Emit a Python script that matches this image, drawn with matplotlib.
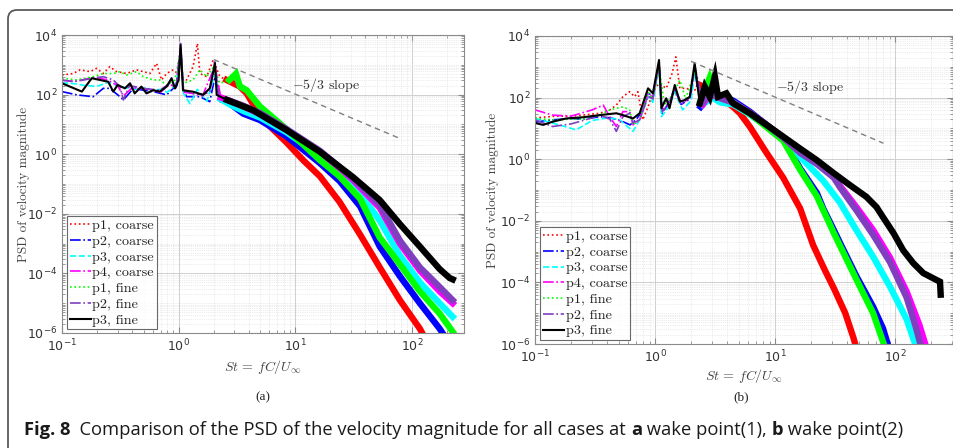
import matplotlib
matplotlib.use("Agg")
import matplotlib.pyplot as plt
import numpy as np
from matplotlib.patches import FancyBboxPatch
from matplotlib.transforms import IdentityTransform
from matplotlib.ticker import LogLocator, NullFormatter

# ---- data (St, PSD) ----
labels = ["p1, coarse", "p2, coarse", "p3, coarse", "p4, coarse",
          "p1, fine", "p2, fine", "p3, fine"]

# panel (a): wake point (1)
st_a_p1c = [0.1, 0.125, 0.143, 0.174, 0.198, 0.226, 0.257, 0.294, 0.358, 0.436, 0.498, 0.568, 0.647, 0.714,
            0.789, 0.9, 1.04, 1.17, 1.33, 1.45, 1.52, 1.74, 1.98, 2.26, 2.58, 2.94, 3.35, 3.83, 4.98, 6.0,
            8.4, 11.7, 16.3, 24, 36, 53, 79, 117, 135]
psd_a_p1c = [455, 510, 680, 590, 760, 510, 870, 590, 510, 680, 590, 510, 1120, 310,
             510, 680, 400, 310, 870, 5200, 510, 400, 1450, 400, 310, 240, 186, 110, 20, 9,
             2.5, 0.63, 0.18, 0.025, 2e-3, 1.6e-4, 1.26e-5, 1.4e-6, 5e-7]

st_a_p2c = [0.1, 0.134, 0.185, 0.226, 0.257, 0.314, 0.336, 0.41, 0.498, 0.605, 0.79, 0.9, 0.97, 1.04, 1.1,
            1.17, 1.52, 1.85, 2.05, 2.26, 2.73, 3.58, 4.98, 8.4, 16.3, 24, 36, 53, 79, 117, 173, 190]
psd_a_p2c = [126, 98, 85, 162, 162, 85, 66, 162, 140, 126, 98, 162, 200, 3000, 150,
             85, 85, 58, 400, 58, 51, 23, 14, 4, 0.5, 0.126, 0.0178, 8e-4, 8e-5, 1e-5, 1.4e-6, 8e-7]

st_a_p3c = [0.1, 0.13, 0.16, 0.2, 0.25, 0.3, 0.35, 0.42, 0.5, 0.6, 0.7, 0.8, 0.9, 0.97, 1.04, 1.1, 1.25,
            1.45, 1.75, 2.05, 2.3, 2.8, 3.6, 5.0, 8.4, 16.3, 31, 53, 79, 117, 173, 224]
psd_a_p3c = [250, 230, 200, 190, 260, 200, 170, 150, 170, 140, 150, 120, 180, 300, 3000, 110, 50,
             150, 60, 500, 70, 45, 28, 17, 5.5, 0.9, 0.11, 6e-3, 4e-4, 5e-5, 1e-5, 3.5e-6]

st_a_p4c = [0.1, 0.13, 0.17, 0.2, 0.25, 0.3, 0.336, 0.4, 0.5, 0.6, 0.7, 0.84, 0.95, 1.04, 1.1, 1.3, 1.6,
            2.05, 2.3, 2.8, 3.6, 5.0, 8.4, 16.3, 31, 53, 79, 117, 173, 224]
psd_a_p4c = [300, 280, 350, 380, 300, 200, 90, 170, 160, 140, 120, 220, 180, 3500, 120, 110, 90,
             900, 80, 60, 40, 22, 6.5, 1.2, 0.14, 0.016, 1e-3, 1.26e-4, 2.5e-5, 1e-5]

st_a_p1f = [0.1, 0.134, 0.185, 0.226, 0.275, 0.314, 0.358, 0.436, 0.498, 0.605, 0.69, 0.79, 0.93, 1.04,
            1.1, 1.33, 1.52, 1.74, 2.0, 2.26, 2.73, 3.1, 3.35, 3.83, 4.98, 8.4, 16.3, 24, 36, 53, 79,
            117, 173, 224]
psd_a_p1f = [355, 310, 400, 510, 510, 590, 455, 590, 400, 310, 310, 210, 310, 3000,
             240, 310, 680, 400, 870, 240, 310, 500, 190, 140, 40, 7, 0.63, 0.18, 0.032, 1.6e-3, 2e-4,
             2.5e-5, 4.5e-6, 1.1e-6]

st_a_p2f = [0.1, 0.125, 0.185, 0.226, 0.275, 0.314, 0.336, 0.38, 0.5, 0.69, 0.84, 0.95, 1.04, 1.1, 1.3,
            1.6, 1.85, 2.05, 2.2, 2.8, 3.6, 5.0, 8.4, 16.3, 31, 53, 79, 117, 173, 224]
psd_a_p2f = [310, 270, 355, 400, 310, 186, 66, 200, 162, 140, 240, 170, 5200, 140, 110,
             100, 120, 1260, 90, 60, 42, 24, 7, 1.3, 0.16, 0.02, 1.26e-3, 1.6e-4, 3.5e-5, 1.26e-5]

st_a_p3f = [0.1, 0.148, 0.18, 0.249, 0.275, 0.30, 0.347, 0.383, 0.42, 0.48, 0.53, 0.605, 0.69, 0.79,
            0.87, 0.93, 1.0, 1.04, 1.09, 1.33, 1.62, 1.85, 2.05, 2.12, 2.6, 3.6, 4.35, 8.4, 16.3, 31.3,
            53, 79, 117, 173, 211, 224]
psd_a_p3f = [240, 126, 355, 270, 126, 210, 162, 240, 110, 186, 110, 140, 126, 186,
             355, 160, 310, 4600, 140, 125, 98, 162, 1120, 98, 66, 40, 30, 6.5, 1.2, 0.17,
             0.029, 4.5e-3, 8e-4, 1.4e-4, 7e-5, 6.3e-5]

# panel (b): wake point (2)
st_b_p1c = [0.1, 0.15, 0.2, 0.25, 0.346, 0.42, 0.476, 0.54, 0.615, 0.676, 0.72, 0.79, 0.875, 0.96, 1.08,
            1.24, 1.39, 1.49, 1.61, 1.84, 2.08, 2.36, 2.7, 3.06, 3.46, 4.47, 5.1, 6.2, 8.5, 11.7, 16.2,
            20.8, 26, 31, 38.5, 45, 49]
psd_b_p1c = [22, 25, 25, 27, 31, 40, 57, 107, 155, 107, 155, 19, 50, 155, 290,
             200, 620, 2100, 200, 200, 155, 257, 200, 138, 107, 50, 31, 11, 1.6, 0.25, 0.025,
             1.6e-3, 2.5e-4, 6.3e-5, 1e-5, 1.6e-6, 5e-7]

st_b_p2c = [0.1, 0.14, 0.2, 0.25, 0.35, 0.42, 0.5, 0.62, 0.7, 0.8, 0.875, 0.96, 1.08, 1.15, 1.3, 1.46,
            1.65, 1.95, 2.14, 2.4, 2.86, 3.3, 4.47, 6.17, 8.5, 11.7, 16.2, 18.3, 22.3, 25.2, 30.9, 34.6,
            47.6, 65.7, 79.4, 90]
psd_b_p2c = [16, 19, 21, 20, 24, 22, 19, 13, 20, 40, 150, 100, 1200, 30, 70, 200,
             60, 90, 800, 50, 120, 90, 80, 35, 13, 4.5, 0.5, 0.25, 0.08, 0.025, 5e-3, 2e-3,
             1.6e-4, 1.6e-5, 3.2e-6, 6.3e-7]

st_b_p3c = [0.1, 0.14, 0.22, 0.3, 0.4, 0.5, 0.656, 0.75, 0.875, 0.96, 1.08, 1.13, 1.3, 1.46, 1.7, 2.0,
            2.14, 2.5, 3.0, 3.5, 4.47, 6.17, 8.5, 11.7, 16.2, 25.2, 34.6, 47.6, 65.7, 90.9, 125, 150]
psd_b_p3c = [21, 15, 9, 18, 22, 20, 8, 20, 110, 70, 1000, 24, 50, 150, 40, 80,
             700, 60, 100, 70, 60, 28, 12, 4.5, 1.2, 0.2, 0.04, 5e-3, 6.8e-4, 7.2e-5, 6.3e-6, 8e-7]

st_b_p4c = [0.1, 0.14, 0.2, 0.3, 0.37, 0.42, 0.476, 0.54, 0.615, 0.656, 0.745, 0.875, 0.96, 1.08, 1.15,
            1.3, 1.46, 1.65, 1.95, 2.14, 2.5, 2.86, 3.4, 4.47, 6.17, 8.5, 11.7, 16.2, 22.3, 30.9, 34.6,
            47.6, 65.7, 90.9, 125, 160, 185]
psd_b_p4c = [40, 27, 25, 40, 57, 24, 11.5, 35, 35, 13, 19, 140, 100, 1200, 40,
             60, 180, 60, 100, 900, 60, 130, 100, 70, 32, 13, 5, 2.0, 0.75, 0.28, 0.14,
             0.028, 5e-3, 6.3e-4, 5e-5, 4e-6, 6.3e-7]

st_b_p1f = [0.1, 0.14, 0.2, 0.25, 0.346, 0.42, 0.54, 0.615, 0.656, 0.745, 0.875, 0.96, 1.08, 1.2, 1.4,
            1.61, 1.8, 2.14, 2.4, 2.86, 3.3, 4.47, 6.17, 8.5, 11.7, 16.2, 22.3, 30.9, 47.6, 65.7, 79, 84]
psd_b_p1f = [21, 19, 20, 20, 27, 40, 50, 40, 13, 19, 150, 90, 1000, 60, 120,
             370, 90, 700, 80, 450, 110, 70, 30, 11, 4, 0.45, 0.063, 4e-3, 1.26e-4, 1e-5, 1.26e-6, 6.3e-7]

st_b_p2f = [0.1, 0.14, 0.2, 0.3, 0.346, 0.42, 0.476, 0.54, 0.615, 0.656, 0.745, 0.875, 0.96, 1.08, 1.15,
            1.3, 1.46, 1.65, 1.95, 2.14, 2.5, 2.86, 3.4, 4.47, 6.17, 8.5, 11.7, 16.2, 22.3, 30.9, 34.6,
            47.6, 65.7, 90.9, 125, 150, 165]
psd_b_p2f = [19, 11.5, 14, 22, 27, 20, 8, 24, 31, 15, 19, 110, 90, 1500, 35,
             60, 200, 70, 100, 1100, 70, 140, 100, 70, 32, 13, 5, 1.6, 0.7, 0.25, 0.126,
             0.022, 3.5e-3, 4.5e-4, 3.2e-5, 3.2e-6, 8e-7]

st_b_p3f = [0.1, 0.117, 0.141, 0.182, 0.251, 0.346, 0.476, 0.54, 0.656, 0.745, 0.875, 0.96, 1.08, 1.13,
            1.24, 1.32, 1.46, 1.61, 1.77, 1.95, 2.14, 2.36, 2.6, 2.86, 3.15, 3.35, 3.93, 4.47, 6.17, 8.5,
            11.7, 16.2, 22.3, 30.9, 42, 57.7, 70, 79, 97, 117, 142, 172, 209, 237, 240]
psd_b_p3f = [15, 13, 16.6, 21, 23, 27, 31, 27, 21, 31, 200, 138, 1660, 45,
             95, 45, 257, 74, 83, 107, 1300, 65, 224, 107, 480, 107, 138, 65, 31, 13,
             5.4, 2.2, 0.93, 0.35, 0.145, 0.06, 0.028, 0.0135, 4e-3, 1.1e-3, 4.2e-4, 2e-4, 1.35e-4, 1.05e-4, 4e-5]

slope_st = [2.0, 80]
slope_psd = [1500, 3.3]

# ---- styles ----
colors = ["#ff0000", "#0000ff", "#00ffff", "#ff00ff", "#00ff00", "#7f3fbf", "#000000"]
styles = [":", "-.", "--", "-.", ":", "-.", "-"]
thin_w = [1.2, 1.2, 1.2, 1.2, 1.2, 1.2, 1.5]
band_from = 2.3   # above this St the spectra are drawn as a thick noisy band
band_w = 4.6

series_a = [(st_a_p1c, psd_a_p1c), (st_a_p2c, psd_a_p2c), (st_a_p3c, psd_a_p3c), (st_a_p4c, psd_a_p4c),
            (st_a_p1f, psd_a_p1f), (st_a_p2f, psd_a_p2f), (st_a_p3f, psd_a_p3f)]
series_b = [(st_b_p1c, psd_b_p1c), (st_b_p2c, psd_b_p2c), (st_b_p3c, psd_b_p3c), (st_b_p4c, psd_b_p4c),
            (st_b_p1f, psd_b_p1f), (st_b_p2f, psd_b_p2f), (st_b_p3f, psd_b_p3f)]

W, H = 954, 448
fig = plt.figure(figsize=(W / 100, H / 100), dpi=100)
fig.patch.set_facecolor("white")

serif = "cmr10"
tick_col = "#333333"
axis_col = "#8a8a8a"


def draw_panel(rect, series, xmax, slope_txt_pos, tag, tag_xy, xlab_y, ylab_x):
    ax = fig.add_axes(rect)
    for (st, psd), c, ls, lw, lab in zip(series, colors, styles, thin_w, labels):
        st = np.array(st)
        psd = np.array(psd)
        ax.plot(st, psd, color=c, linestyle=ls, linewidth=lw, label=lab)
        k = st >= band_from
        ax.plot(st[k], psd[k], color=c, linestyle="-", linewidth=band_w, solid_joinstyle="miter")
    ax.plot(slope_st, slope_psd, color="#808080", linestyle=(0, (4, 3)), linewidth=1.0)
    ax.text(slope_txt_pos[0], slope_txt_pos[1], r"$-5/3$ slope", family=serif, math_fontfamily="cm",
            fontsize=10, color="#333333", ha="left", va="center")

    ax.set_xscale("log")
    ax.set_yscale("log")
    ax.set_xlim(0.1, xmax)
    ax.set_ylim(1e-6, 1e4)
    ax.set_xticks([0.1, 1, 10, 100])
    ax.set_yticks([1e-6, 1e-4, 1e-2, 1, 1e2, 1e4])
    ax.xaxis.set_minor_locator(LogLocator(base=10, subs=np.arange(2, 10), numticks=20))
    ax.yaxis.set_minor_locator(LogLocator(base=10, subs=np.arange(1, 10), numticks=30))
    ax.xaxis.set_minor_formatter(NullFormatter())
    ax.yaxis.set_minor_formatter(NullFormatter())
    ax.grid(True, which="major", color="#cfcfcf", linewidth=0.7)
    ax.grid(True, which="minor", color="#dadada", linewidth=0.5, linestyle=":")
    ax.set_axisbelow(True)
    ax.tick_params(which="both", direction="in", top=True, right=True, colors=axis_col,
                   labelcolor=tick_col, labelsize=9)
    ax.tick_params(which="major", length=4)
    ax.tick_params(which="minor", length=2)
    for s in ax.spines.values():
        s.set_color(axis_col)
        s.set_linewidth(0.8)

    ax.set_xlabel(r"$St\, =\, fC/U_\infty$", math_fontfamily="cm", fontsize=10, color="#444444")
    ax.xaxis.set_label_coords(0.5, xlab_y)
    ax.set_ylabel("PSD of velocity magnitude", family=serif, fontsize=9.5, color="#444444")
    ax.yaxis.set_label_coords(ylab_x, 0.5)

    leg = ax.legend(loc="lower left", bbox_to_anchor=(0.012, 0.012), borderaxespad=0,
                    prop={"family": serif, "size": 10.2}, frameon=True, fancybox=False,
                    handlelength=1.5, handletextpad=0.1, labelspacing=0.2, borderpad=0.2)
    leg.get_frame().set_edgecolor("#444444")
    leg.get_frame().set_linewidth(0.8)
    for t in leg.get_texts():
        t.set_color("#222222")

    fig.text(tag_xy[0] / W, 1 - tag_xy[1] / H, tag, family="Liberation Serif", fontsize=9.5,
             ha="center", va="center", color="#222222")
    return ax


draw_panel([62 / W, 1 - 333 / H, 402 / W, 298 / H], series_a, 280, (9.4, 210), "(a)", (263, 397),
           -0.085, -0.08)
draw_panel([535 / W, 1 - 344 / H, 418 / W, 308 / H], series_b, 304, (10.2, 220), "(b)", (741, 397),
           -0.075, -0.085)

# outer frame of the figure box (continues past the right and bottom edges)
frame = FancyBboxPatch((8, -30), 1000, 438 - (-30), boxstyle="round,pad=0,rounding_size=9",
                       transform=IdentityTransform(), facecolor="none", edgecolor="#5a5a5a",
                       linewidth=1.3)
fig.add_artist(frame)

# caption with bold pieces
renderer = fig.canvas.get_renderer()
pieces = [("Fig. 8", "bold"), ("  Comparison of the PSD of the velocity magnitude for all cases at ", "normal"),
          ("a", "bold"), (" wake point(1), ", "normal"), ("b", "bold"), (" wake point(2)", "normal")]
x = 24 / W
y = 1 - 430 / H
for s, w in pieces:
    t = fig.text(x, y, s, family="Open Sans", fontsize=13.2, fontweight=w, color="#1a1a1a",
                 ha="left", va="center")
    bb = t.get_window_extent(renderer)
    x = bb.x1 / W

fig.savefig("out.png", dpi=100)
